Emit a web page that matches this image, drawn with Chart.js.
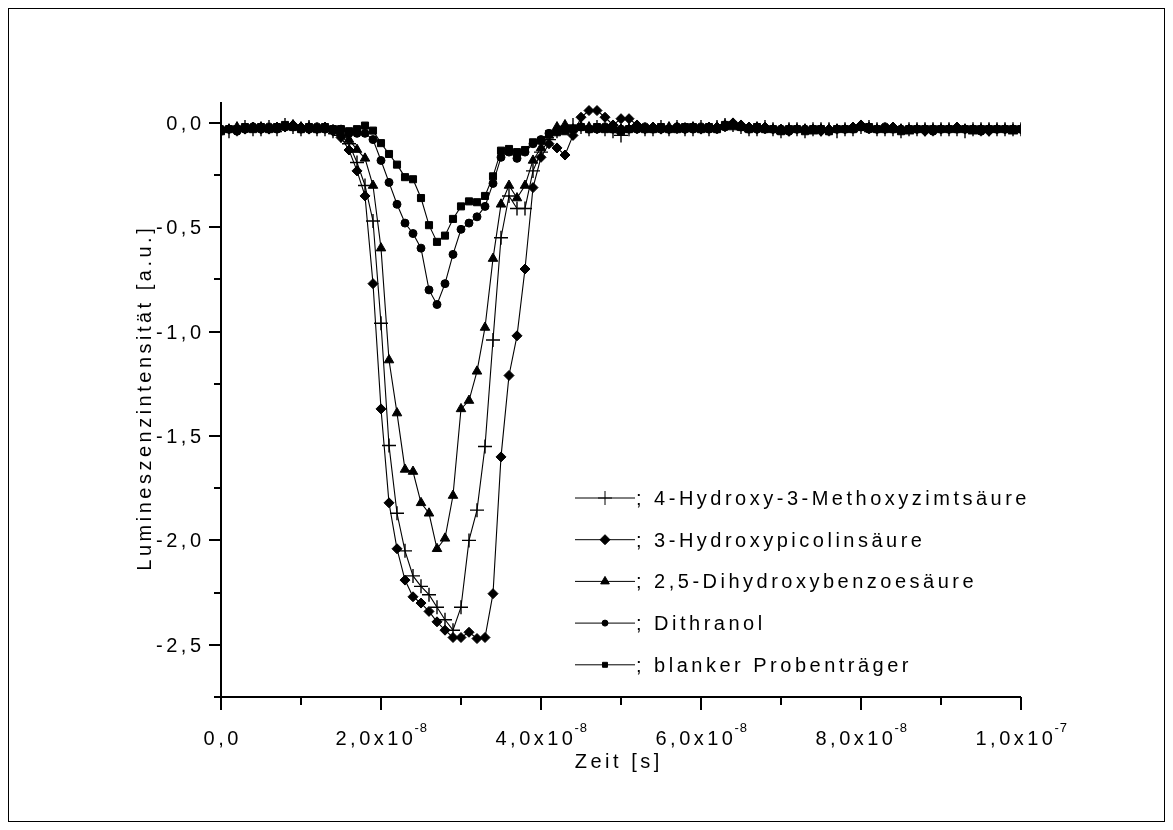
<!DOCTYPE html>
<html>
<head>
<meta charset="utf-8">
<script src="https://cdn.jsdelivr.net/npm/chart.js@4.4.0/dist/chart.umd.min.js"></script>
<style>
  html, body { margin: 0; padding: 0; background: #fff; }
  canvas { display: block; }
</style>
</head>
<body>
<canvas id="lumChart" width="1173" height="830"></canvas>
<script>
// time axis in ns (one sample per ns)
const zeitNs = [
  0, 1, 2, 3, 4, 5, 6, 7, 8, 9,
  10, 11, 12, 13, 14, 15, 16, 17, 18, 19,
  20, 21, 22, 23, 24, 25, 26, 27, 28, 29,
  30, 31, 32, 33, 34, 35, 36, 37, 38, 39,
  40, 41, 42, 43, 44, 45, 46, 47, 48, 49,
  50, 51, 52, 53, 54, 55, 56, 57, 58, 59,
  60, 61, 62, 63, 64, 65, 66, 67, 68, 69,
  70, 71, 72, 73, 74, 75, 76, 77, 78, 79,
  80, 81, 82, 83, 84, 85, 86, 87, 88, 89,
  90, 91, 92, 93, 94, 95, 96, 97, 98, 99,
  100
];

const hydroxyMethoxy = [
  -0.03, -0.04, -0.03, -0.02, -0.03, -0.03, -0.02, -0.03, -0.01, -0.02,
  -0.03, -0.02, -0.03, -0.03, -0.04, -0.06, -0.10, -0.19, -0.30, -0.47,
  -0.96, -1.545, -1.87, -2.05, -2.17, -2.22, -2.26, -2.32, -2.38, -2.43,
  -2.32, -2.00, -1.855, -1.55, -1.04, -0.55, -0.35, -0.41, -0.41, -0.23,
  -0.14, -0.08, -0.04, -0.02, -0.01, -0.02, -0.03, -0.02, -0.03, -0.04,
  -0.06, -0.03, -0.02, -0.03, -0.03, -0.02, -0.03, -0.02, -0.03, -0.03,
  -0.02, -0.03, -0.02, -0.01, -0.01, -0.02, -0.03, -0.03, -0.02, -0.03,
  -0.04, -0.03, -0.03, -0.04, -0.03, -0.03, -0.03, -0.04, -0.03, -0.03,
  -0.02, -0.02, -0.03, -0.03, -0.03, -0.04, -0.03, -0.03, -0.03, -0.03,
  -0.03, -0.03, -0.03, -0.04, -0.03, -0.03, -0.03, -0.03, -0.03, -0.03,
  -0.03
];

const hydroxyPicolin = [
  -0.04, -0.03, -0.03, -0.03, -0.02, -0.03, -0.03, -0.02, -0.02, -0.01,
  -0.02, -0.03, -0.03, -0.02, -0.04, -0.07, -0.13, -0.23, -0.35, -0.77,
  -1.37, -1.82, -2.04, -2.19, -2.27, -2.30, -2.34, -2.39, -2.43, -2.465,
  -2.465, -2.44, -2.47, -2.465, -2.255, -1.60, -1.21, -1.02, -0.70, -0.31,
  -0.165, -0.10, -0.12, -0.154, -0.06, 0.027, 0.059, 0.059, 0.027, -0.01,
  0.02, 0.02, -0.01, -0.03, -0.02, -0.03, -0.03, -0.02, -0.03, -0.02,
  -0.03, -0.02, -0.02, -0.01, 0.0, -0.01, -0.02, -0.03, -0.02, -0.03,
  -0.03, -0.04, -0.03, -0.03, -0.03, -0.04, -0.03, -0.03, -0.03, -0.02,
  -0.01, -0.02, -0.03, -0.03, -0.02, -0.03, -0.03, -0.03, -0.04, -0.03,
  -0.03, -0.03, -0.02, -0.03, -0.03, -0.03, -0.04, -0.03, -0.03, -0.03,
  -0.03
];

const dihydroxyBenzoe = [
  -0.03, -0.03, -0.02, -0.03, -0.03, -0.02, -0.03, -0.03, -0.02, -0.01,
  -0.02, -0.02, -0.03, -0.03, -0.04, -0.05, -0.08, -0.128, -0.17, -0.30,
  -0.60, -1.136, -1.39, -1.66, -1.67, -1.82, -1.87, -2.04, -1.99, -1.785,
  -1.37, -1.33, -1.19, -0.98, -0.65, -0.39, -0.30, -0.36, -0.30, -0.18,
  -0.12, -0.06, -0.02, -0.01, -0.03, -0.02, -0.02, -0.03, -0.03, -0.02,
  -0.03, -0.03, -0.02, -0.03, -0.03, -0.03, -0.02, -0.03, -0.03, -0.02,
  -0.03, -0.03, -0.02, -0.01, -0.02, -0.02, -0.03, -0.02, -0.03, -0.03,
  -0.04, -0.03, -0.03, -0.03, -0.04, -0.03, -0.03, -0.03, -0.03, -0.03,
  -0.02, -0.03, -0.03, -0.03, -0.03, -0.03, -0.04, -0.03, -0.03, -0.03,
  -0.03, -0.03, -0.03, -0.03, -0.04, -0.03, -0.03, -0.03, -0.03, -0.04,
  -0.03
];

const dithranol = [
  -0.03, -0.03, -0.04, -0.03, -0.02, -0.03, -0.02, -0.03, -0.02, -0.02,
  -0.03, -0.03, -0.02, -0.03, -0.03, -0.03, -0.05, -0.05, -0.05, -0.08,
  -0.18, -0.285, -0.39, -0.48, -0.53, -0.60, -0.80, -0.87, -0.77, -0.63,
  -0.51, -0.48, -0.45, -0.40, -0.29, -0.165, -0.14, -0.17, -0.14, -0.10,
  -0.08, -0.05, -0.04, -0.03, -0.03, -0.02, -0.03, -0.03, -0.02, -0.03,
  -0.03, -0.03, -0.03, -0.02, -0.03, -0.03, -0.03, -0.02, -0.03, -0.03,
  -0.02, -0.03, -0.03, -0.02, -0.01, -0.02, -0.03, -0.03, -0.03, -0.03,
  -0.03, -0.04, -0.03, -0.03, -0.03, -0.03, -0.04, -0.03, -0.03, -0.03,
  -0.02, -0.03, -0.03, -0.02, -0.03, -0.03, -0.03, -0.03, -0.03, -0.04,
  -0.03, -0.03, -0.03, -0.03, -0.03, -0.04, -0.03, -0.03, -0.03, -0.03,
  -0.03
];

const blankerTraeger = [
  -0.04, -0.03, -0.03, -0.02, -0.03, -0.02, -0.03, -0.02, -0.01, -0.02,
  -0.03, -0.02, -0.03, -0.02, -0.03, -0.03, -0.04, -0.03, -0.013, -0.037,
  -0.097, -0.149, -0.20, -0.26, -0.27, -0.36, -0.49, -0.57, -0.54, -0.46,
  -0.40, -0.376, -0.38, -0.35, -0.256, -0.133, -0.125, -0.14, -0.13, -0.093,
  -0.085, -0.053, -0.045, -0.04, -0.03, -0.02, -0.03, -0.02, -0.03, -0.03,
  -0.04, -0.03, -0.02, -0.03, -0.03, -0.02, -0.03, -0.03, -0.02, -0.02,
  -0.03, -0.02, -0.03, -0.01, -0.01, -0.02, -0.03, -0.02, -0.03, -0.03,
  -0.04, -0.03, -0.03, -0.04, -0.03, -0.03, -0.04, -0.03, -0.03, -0.03,
  -0.02, -0.02, -0.03, -0.03, -0.03, -0.04, -0.03, -0.03, -0.03, -0.03,
  -0.03, -0.03, -0.03, -0.03, -0.03, -0.03, -0.03, -0.03, -0.03, -0.03,
  -0.03
];

const seriesNames = [
  '4-Hydroxy-3-Methoxyzimtsäure',
  '3-Hydroxypicolinsäure',
  '2,5-Dihydroxybenzoesäure',
  'Dithranol',
  'blanker Probenträger'
];

// axis ticks
const xMajorTicks = [0, 2e-8, 4e-8, 6e-8, 8e-8, 1e-7];
const xTickBase = ['0,0', '2,0x10', '4,0x10', '6,0x10', '8,0x10', '1,0x10'];
const xTickExp = ['', '-8', '-8', '-8', '-8', '-7'];
const xMinorTicks = [1e-8, 3e-8, 5e-8, 7e-8, 9e-8];
const yMajorTicks = [0, -0.5, -1.0, -1.5, -2.0, -2.5];
const yTickLabels = ['0,0', '-0,5', '-1,0', '-1,5', '-2,0', '-2,5'];
const yMinorTicks = [-0.25, -0.75, -1.25, -1.75, -2.25, -2.75];

const FONT = '"Liberation Sans", Arial, sans-serif';
const FONT_SIZE = 20;
const SPACING = 3.5;

const markerStyles = [
  { pointStyle: 'cross', radius: 7, legendRadius: 7 },
  { pointStyle: 'rectRot', radius: 5, legendRadius: 5 },
  { pointStyle: 'triangle', radius: 5.5, legendRadius: 5 },
  { pointStyle: 'circle', radius: 4, legendRadius: 3 },
  { pointStyle: 'rect', radius: 5, legendRadius: 3.5 }
];

const allSeries = [hydroxyMethoxy, hydroxyPicolin, dihydroxyBenzoe, dithranol, blankerTraeger];

const datasets = allSeries.map((vals, k) => ({
  label: seriesNames[k],
  data: zeitNs.map((t, i) => ({ x: t * 1e-9, y: vals[i] })),
  borderColor: '#000',
  borderWidth: 1.1,
  backgroundColor: '#000',
  pointBackgroundColor: '#000',
  pointBorderColor: '#000',
  pointBorderWidth: markerStyles[k].pointStyle === 'cross' ? 1.4 : 1,
  pointStyle: markerStyles[k].pointStyle,
  pointRadius: markerStyles[k].radius,
  tension: 0,
  fill: false
}));

// draw text with letter spacing, aligned by its visible width
function spacedText(ctx, text, x, y, align, size) {
  ctx.font = size + 'px ' + FONT;
  ctx.letterSpacing = SPACING + 'px';
  const w = ctx.measureText(text).width - SPACING;
  let x0 = x;
  if (align === 'center') x0 = x - w / 2;
  if (align === 'right') x0 = x - w;
  ctx.textAlign = 'left';
  ctx.fillText(text, x0, y);
  return w;
}

const decorations = {
  id: 'decorations',
  afterDraw(chart) {
    const ctx = chart.ctx;
    const xs = chart.scales.x;
    const ys = chart.scales.y;
    const area = chart.chartArea;
    ctx.save();
    ctx.strokeStyle = '#000';
    ctx.fillStyle = '#000';

    // outer frame
    ctx.lineWidth = 1;
    ctx.strokeRect(8.5, 8.5, 1156, 813);

    // axis lines
    ctx.lineWidth = 2;
    ctx.beginPath();
    ctx.moveTo(area.left, area.top);
    ctx.lineTo(area.left, area.bottom);
    ctx.moveTo(area.left, area.bottom);
    ctx.lineTo(area.right, area.bottom);
    ctx.stroke();

    // ticks
    ctx.beginPath();
    yMajorTicks.forEach(v => {
      const py = Math.round(ys.getPixelForValue(v));
      ctx.moveTo(area.left - 12, py);
      ctx.lineTo(area.left, py);
    });
    yMinorTicks.forEach(v => {
      const py = Math.round(ys.getPixelForValue(v));
      ctx.moveTo(area.left - 7, py);
      ctx.lineTo(area.left, py);
    });
    xMajorTicks.forEach(v => {
      const px = Math.round(xs.getPixelForValue(v));
      ctx.moveTo(px, area.bottom);
      ctx.lineTo(px, area.bottom + 13);
    });
    xMinorTicks.forEach(v => {
      const px = Math.round(xs.getPixelForValue(v));
      ctx.moveTo(px, area.bottom);
      ctx.lineTo(px, area.bottom + 8);
    });
    ctx.stroke();

    // tick labels
    ctx.textBaseline = 'alphabetic';
    yMajorTicks.forEach((v, i) => {
      const py = ys.getPixelForValue(v);
      spacedText(ctx, yTickLabels[i], area.left - 20, py + 7, 'right', FONT_SIZE);
    });
    xMajorTicks.forEach((v, i) => {
      const px = xs.getPixelForValue(v);
      ctx.font = FONT_SIZE + 'px ' + FONT;
      ctx.letterSpacing = SPACING + 'px';
      const wb = ctx.measureText(xTickBase[i]).width;
      let we = 0;
      if (xTickExp[i]) {
        ctx.font = '13px ' + FONT;
        ctx.letterSpacing = '1px';
        we = ctx.measureText(xTickExp[i]).width;
      }
      const x0 = px - (wb + we - SPACING) / 2;
      ctx.font = FONT_SIZE + 'px ' + FONT;
      ctx.letterSpacing = SPACING + 'px';
      ctx.textAlign = 'left';
      ctx.fillText(xTickBase[i], x0, area.bottom + 48);
      if (xTickExp[i]) {
        ctx.font = '13px ' + FONT;
        ctx.letterSpacing = '1px';
        ctx.fillText(xTickExp[i], x0 + wb - 2, area.bottom + 35);
      }
    });

    // axis titles
    spacedText(ctx, 'Zeit [s]', (area.left + area.right) / 2 - 4, area.bottom + 71, 'center', FONT_SIZE);
    ctx.save();
    ctx.translate(151, (area.top + area.bottom) / 2);
    ctx.rotate(-Math.PI / 2);
    spacedText(ctx, 'Lumineszenzintensität [a.u.]', 0, 0, 'center', FONT_SIZE);
    ctx.restore();

    // legend inside the plot
    seriesNames.forEach((name, k) => {
      const ly = 498 + k * 41.7;
      ctx.lineWidth = 1;
      ctx.beginPath();
      ctx.moveTo(575, ly);
      ctx.lineTo(635, ly);
      ctx.stroke();
      Chart.helpers.drawPoint(ctx, {
        pointStyle: markerStyles[k].pointStyle,
        radius: markerStyles[k].legendRadius,
        rotation: 0,
        borderWidth: markerStyles[k].pointStyle === 'cross' ? 1.4 : 1
      }, 605, ly);
      spacedText(ctx, '; ' + name, 636, ly + 7, 'left', FONT_SIZE);
    });

    ctx.letterSpacing = '0px';
    ctx.restore();
  }
};

new Chart(document.getElementById('lumChart'), {
  type: 'line',
  data: { datasets: datasets },
  options: {
    responsive: false,
    animation: false,
    devicePixelRatio: 1,
    layout: { padding: { left: 221, right: 152, top: 102, bottom: 133 } },
    plugins: { legend: { display: false }, tooltip: { enabled: false } },
    scales: {
      x: { type: 'linear', min: 0, max: 1e-7, display: false },
      y: { type: 'linear', min: -2.75, max: 0.1, display: false }
    }
  },
  plugins: [decorations]
});
</script>
</body>
</html>
